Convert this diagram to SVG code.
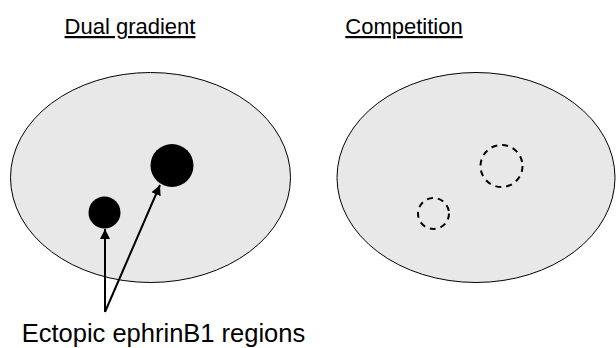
<svg xmlns="http://www.w3.org/2000/svg" width="616" height="348" viewBox="0 0 616 348">
<style>
.t{font-family:"Liberation Sans",Arial,sans-serif;fill:#000}
.title{font-size:22px;text-decoration:underline}
.body{fill:#e8e8e8;stroke:#000;stroke-width:1}
.dash{fill:none;stroke:#000;stroke-width:2;stroke-dasharray:6,5}
.arr{stroke:#000;stroke-width:2;fill:none;marker-end:url(#ah)}
</style>
<defs>
<marker id="ah" viewBox="0 0 10 10" refX="10" refY="5" markerWidth="5" markerHeight="5" markerUnits="strokeWidth" orient="auto">
<path d="M0,0L10,5L0,10z" fill="#000"/>
</marker>
</defs>
<g id="title-dual"><text class="t title" x="130" y="34" text-anchor="middle">Dual gradient</text></g>
<g id="title-competition"><text class="t title" x="404" y="34" text-anchor="middle">Competition</text></g>
<g id="field-dual">
<ellipse class="body" cx="150.5" cy="177.5" rx="140" ry="105"/>
<circle id="spot-small" cx="104.5" cy="212.5" r="16" fill="#000"/>
<circle id="spot-large" cx="172" cy="165.5" r="21.5" fill="#000"/>
</g>
<g id="field-competition">
<ellipse class="body" cx="476" cy="177.5" rx="139" ry="105"/>
<circle class="dash" cx="433.5" cy="213.5" r="15.5"/>
<circle class="dash" cx="501.5" cy="166" r="21"/>
</g>
<g id="connectors">
<line class="arr" x1="105" y1="312" x2="105" y2="229"/>
<line class="arr" x1="105" y1="312" x2="160" y2="185"/>
</g>
<g id="label"><text class="t" x="163.5" y="341.5" font-size="25.5" text-anchor="middle">Ectopic ephrinB1 regions</text></g>
</svg>
